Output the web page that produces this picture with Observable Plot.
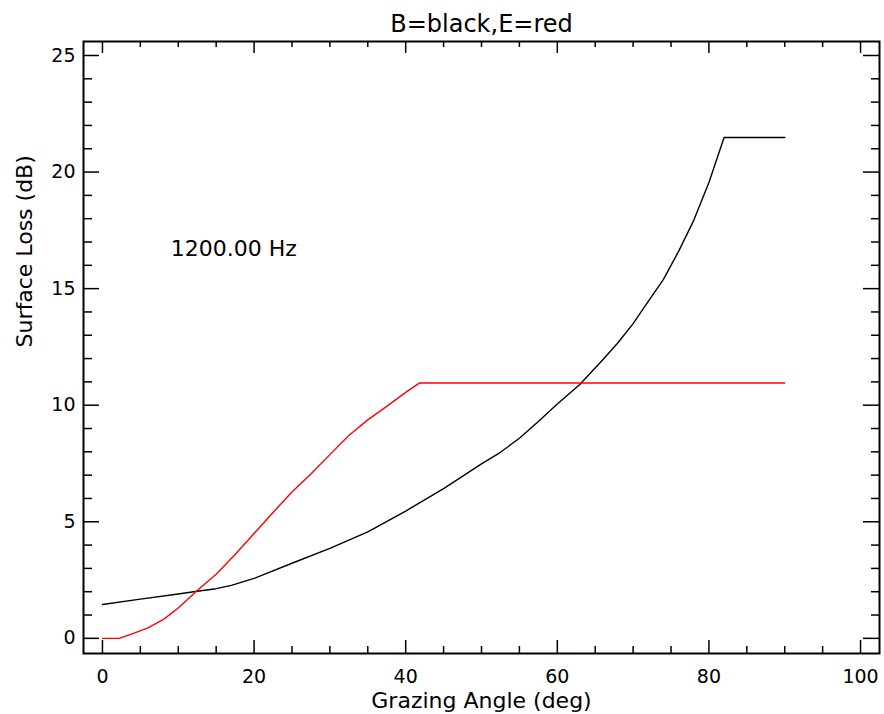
<!DOCTYPE html>
<html>
<head>
<meta charset="utf-8">
<script src="https://cdn.jsdelivr.net/npm/d3@7"></script>
<script src="https://cdn.jsdelivr.net/npm/@observablehq/plot@0.6"></script>
<style>
  html, body { margin: 0; padding: 0; background: white; }
  #chart svg { display: block; }
</style>
</head>
<body>
<div id="chart"></div>
<script>
// Series B (black): grazing angle (deg) vs surface loss (dB)
const bAngle = [0, 5, 10, 12.5, 15, 17, 20, 25, 30, 35, 40, 45, 50, 52.5, 55, 57.5, 60, 63, 66, 68, 70, 72, 74, 76, 78, 80, 81.5, 82, 90];
const bLoss  = [1.45, 1.68, 1.9, 2.02, 2.13, 2.27, 2.57, 3.22, 3.86, 4.57, 5.46, 6.42, 7.48, 7.98, 8.58, 9.3, 10.05, 10.9, 11.95, 12.68, 13.5, 14.45, 15.4, 16.6, 17.93, 19.55, 21.0, 21.48, 21.48];
// Series E (red)
const eAngle = [0, 2.2, 4, 6, 8, 9, 10, 12.5, 15, 17.5, 20, 22.5, 25, 27.5, 30, 32.5, 35, 37.5, 40, 41.8, 90];
const eLoss  = [0, 0, 0.2, 0.45, 0.8, 1.05, 1.3, 2.05, 2.75, 3.6, 4.5, 5.4, 6.28, 7.05, 7.88, 8.7, 9.37, 9.95, 10.55, 10.95, 10.95];

const xMajor = [0, 20, 40, 60, 80, 100];
const yMajor = [0, 5, 10, 15, 20, 25];
const xMinor = d3.range(5, 100, 5).filter(v => v % 20 !== 0);
const yMinor = d3.range(1, 26, 1).filter(v => v % 5 !== 0);

const titleText = "B=black,E=red";
const xLabel = "Grazing Angle (deg)";
const yLabel = "Surface Loss (dB)";
const annotation = [{angle: 9, loss: 16.72, text: "1200.00 Hz"}];

const bData = bAngle.map((a, i) => ({angle: a, loss: bLoss[i]}));
const eData = eAngle.map((a, i) => ({angle: a, loss: eLoss[i]}));

const W = 884, H = 714;
const mT = 41, mB = 61, mL = 83, mR = 5;
const fw = W - mL - mR, fh = H - mT - mB;
const tw = 1.5;

const chart = Plot.plot({
  width: W,
  height: H,
  marginTop: mT,
  marginBottom: mB,
  marginLeft: mL,
  marginRight: mR,
  style: {fontFamily: "DejaVu Sans", fontSize: "19px", background: "white", color: "black"},
  x: {domain: [-2.5, 102.5]},
  y: {domain: [-0.65, 25.6]},
  marks: [
    Plot.ruleX(xMajor, {x: d => d, insetTop: fh - 13, stroke: "black", strokeWidth: tw}),
    Plot.ruleX(xMinor, {x: d => d, insetTop: fh - 7, stroke: "black", strokeWidth: tw}),
    Plot.ruleX(xMajor, {x: d => d, insetBottom: fh - 12, stroke: "black", strokeWidth: tw}),
    Plot.ruleX(xMinor, {x: d => d, insetBottom: fh - 6, stroke: "black", strokeWidth: tw}),
    Plot.ruleY(yMajor, {y: d => d, insetRight: fw - 16, stroke: "black", strokeWidth: tw}),
    Plot.ruleY(yMinor, {y: d => d, insetRight: fw - 9, stroke: "black", strokeWidth: tw}),
    Plot.ruleY(yMajor, {y: d => d, insetLeft: fw - 16, stroke: "black", strokeWidth: tw}),
    Plot.ruleY(yMinor, {y: d => d, insetLeft: fw - 8, stroke: "black", strokeWidth: tw}),
    Plot.frame({stroke: "black", strokeWidth: 2}),
    Plot.axisX({ticks: xMajor, tickSize: 0, tickPadding: 16, tickFormat: d => String(d), label: null, fontSize: 19}),
    Plot.axisY({ticks: yMajor, tickSize: 0, tickPadding: 8, tickFormat: d => String(d), label: null, fontSize: 19}),
    Plot.line(bData, {x: "angle", y: "loss", stroke: "black", strokeWidth: 1.4}),
    Plot.line(eData, {x: "angle", y: "loss", stroke: "#ff0000", strokeWidth: 1.4}),
    Plot.text(annotation, {x: "angle", y: "loss", text: "text", textAnchor: "start", lineAnchor: "middle", fontSize: 22}),
    Plot.text([titleText], {text: d => d, frameAnchor: "top", lineAnchor: "bottom", dy: -10, fontSize: 24}),
    Plot.text([xLabel], {text: d => d, frameAnchor: "bottom", lineAnchor: "bottom", dy: 54, fontSize: 22}),
    Plot.text([yLabel], {text: d => d, frameAnchor: "left", rotate: -90, lineAnchor: "middle", dx: -59, fontSize: 22})
  ]
});
document.getElementById("chart").append(chart);
</script>
</body>
</html>
